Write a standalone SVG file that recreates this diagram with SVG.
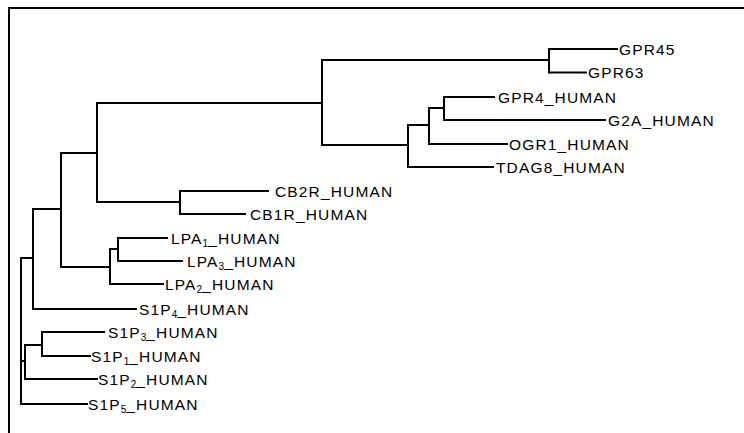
<svg xmlns="http://www.w3.org/2000/svg" width="744" height="433" viewBox="0 0 744 433">
<style>
.br{fill:none;stroke:#000;stroke-width:2;stroke-linecap:square}
.fr{fill:none;stroke:#000;stroke-width:2}
text{font-family:"Liberation Sans",Arial,sans-serif;font-size:15.5px;letter-spacing:1.15px;fill:#000}
.sub{font-size:10px;letter-spacing:0}
</style>
<rect width="744" height="433" fill="#fff"/>
<path class="fr" d="M9 433 V8 H744"/>
<g id="connectors">
<path class="br" d="M21 258 V404 M21 258 H33 M21 361 H25 M21 404 H87"/>
<path class="br" d="M33 209 V309 M33 209 H61 M33 309 H136"/>
<path class="br" d="M61 153 V267 M61 153 H97 M61 267 H110"/>
<path class="br" d="M97 103 V202 M97 103 H322 M97 202 H180"/>
<path class="br" d="M322 60 V145 M322 60 H549 M322 145 H408"/>
<path class="br" d="M549 49 V72.5 M549 49 H617 M549 72.5 H586"/>
<path class="br" d="M408 125 V167 M408 125 H429 M408 167 H493"/>
<path class="br" d="M429 108 V144 M429 108 H444 M429 144 H507"/>
<path class="br" d="M444 97 V120 M444 97 H494 M444 120 H605"/>
<path class="br" d="M180 191 V214 M180 191 H268 M180 214 H245"/>
<path class="br" d="M110 249 V284 M110 249 H118 M110 284 H163"/>
<path class="br" d="M118 238 V261 M118 238 H167 M118 261 H182"/>
<path class="br" d="M25 345 V379 M25 345 H42 M25 379 H97"/>
<path class="br" d="M42 332 V356 M42 332 H104 M42 356 H90"/>
</g>
<g id="GPR45"><text x="619" y="54.5">GPR45</text></g>
<g id="GPR63"><text x="588" y="78">GPR63</text></g>
<g id="GPR4_HUMAN"><text x="498" y="102.5">GPR4_HUMAN</text></g>
<g id="G2A_HUMAN"><text x="608" y="125.5">G2A_HUMAN</text></g>
<g id="OGR1_HUMAN"><text x="509" y="149.5">OGR1_HUMAN</text></g>
<g id="TDAG8_HUMAN"><text x="496" y="172.5">TDAG8_HUMAN</text></g>
<g id="CB2R_HUMAN"><text x="275" y="196.5">CB2R_HUMAN</text></g>
<g id="CB1R_HUMAN"><text x="250" y="219.5">CB1R_HUMAN</text></g>
<g id="LPA1_HUMAN"><text x="171" y="243.5">LPA<tspan class="sub" dy="3">1</tspan><tspan dy="-3">_HUMAN</tspan></text></g>
<g id="LPA3_HUMAN"><text x="187" y="266.5">LPA<tspan class="sub" dy="3">3</tspan><tspan dy="-3">_HUMAN</tspan></text></g>
<g id="LPA2_HUMAN"><text x="165" y="289.5">LPA<tspan class="sub" dy="3">2</tspan><tspan dy="-3">_HUMAN</tspan></text></g>
<g id="S1P4_HUMAN"><text x="139" y="314.5">S1P<tspan class="sub" dy="3">4</tspan><tspan dy="-3">_HUMAN</tspan></text></g>
<g id="S1P3_HUMAN"><text x="108" y="337.5">S1P<tspan class="sub" dy="3">3</tspan><tspan dy="-3">_HUMAN</tspan></text></g>
<g id="S1P1_HUMAN"><text x="91" y="361.5">S1P<tspan class="sub" dy="3">1</tspan><tspan dy="-3">_HUMAN</tspan></text></g>
<g id="S1P2_HUMAN"><text x="98" y="384.5">S1P<tspan class="sub" dy="3">2</tspan><tspan dy="-3">_HUMAN</tspan></text></g>
<g id="S1P5_HUMAN"><text x="88" y="409.5">S1P<tspan class="sub" dy="3">5</tspan><tspan dy="-3">_HUMAN</tspan></text></g>
</svg>
